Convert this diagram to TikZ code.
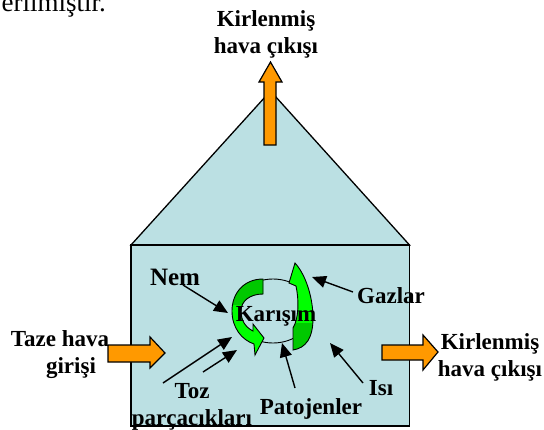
\documentclass[tikz,border=0pt]{standalone}
\usepackage{fontspec}
\setmainfont{Liberation Serif}
\usetikzlibrary{arrows.meta,calc}
\definecolor{boxblue}{RGB}{187,224,227}
\definecolor{orangefill}{RGB}{255,153,0}
\definecolor{darkgreen}{RGB}{0,200,0}
\definecolor{brightgreen}{RGB}{0,255,0}
\begin{document}
\begin{tikzpicture}[x=1pt,y=-1pt,
  lbl/.style={font=\fontsize{23}{27}\selectfont\bfseries, inner sep=0pt, align=center},
  ptr/.style={line width=1.4pt, -{Triangle[length=14pt,width=12pt]}},
  blockarrow/.style={fill=orangefill, draw=black, line width=1.2pt, line join=miter},
  house/.style={fill=boxblue, draw=black, line width=1.3pt},
  greenarrow/.style={draw=black, line width=0.9pt, fill=brightgreen},
  cycleline/.style={draw=black, line width=0.9pt},
]
\path[use as bounding box, clip] (0,0) rectangle (544,429);

% fragment of the preceding sentence
\node[font=\fontsize{27}{30}\selectfont, anchor=base east, inner sep=0pt] (prev) at (106,11) {verilmiştir.};

% house
\draw[house] (131,245) -- (270.5,91) -- (409.5,245) -- cycle;
\draw[house] (131,245) rectangle (409.5,426);

% orange block arrows
\draw[blockarrow] (264,145) -- (264,82) -- (259,82) -- (270.5,62) -- (282,82) -- (276,82) -- (276,145) -- cycle;
\draw[blockarrow] (108,345) -- (150,345) -- (150,337) -- (165,353) -- (150,368) -- (150,362) -- (108,362) -- cycle;
\draw[blockarrow] (382,345) -- (423,345) -- (423,335) -- (438,352) -- (423,370) -- (423,360) -- (382,360) -- cycle;

% mixing cycle
\draw[cycleline] (273,311) ellipse [x radius=39pt, y radius=32pt];
\path[greenarrow, path picture={
    \fill[darkgreen] (path picture bounding box.north west) rectangle ($(path picture bounding box.south east)!0.66!(path picture bounding box.north east)$);}]
  (263,279) .. controls (244,279) and (232,293) .. (232,311)
  .. controls (232,328) and (242,340) .. (254,344)
  -- (255,355) -- (264,338) -- (253,324) -- (253,331)
  .. controls (245,327) and (241,320) .. (241,311)
  .. controls (241,301) and (250,294) .. (263,294) -- cycle;
\path[greenarrow, path picture={
    \fill[darkgreen] (path picture bounding box.south west) rectangle ($(path picture bounding box.south east)!0.31!(path picture bounding box.north east)$);}]
  (295,263) -- (289,283) -- (296,286)
  .. controls (299,300) and (299,318) .. (293,328)
  -- (293,350)
  .. controls (306,348) and (313,338) .. (313,318)
  .. controls (313,298) and (306,275) .. (295,263) -- cycle;

% labels (multi-line nodes: base = baseline of last line)
\node[lbl, anchor=base] (topout) at (266,53) {Kirlenmiş\\hava çıkışı};
\node[lbl, anchor=base] (inlbl) at (60,373) {Taze hava\\\hspace*{22pt}girişi};
\node[lbl, anchor=base] (rightout) at (490,376) {Kirlenmiş\\hava çıkışı};
\node[lbl, font=\fontsize{25}{27}\selectfont\bfseries, anchor=base] (nem) at (175,285) {Nem};
\node[lbl, anchor=base] (mix) at (276,321) {Karışım};
\node[lbl, anchor=base] (gaz) at (391,303) {Gazlar};
\node[lbl, anchor=base] (toz) at (192,425) {Toz\\parçacıkları};
\node[lbl, anchor=base] (pat) at (311,414) {Patojenler};
\node[lbl, anchor=base] (isi) at (381,395) {Isı};

% pointer ends
\coordinate (nemS) at (183,285);  \coordinate (nemE) at (228,313);
\coordinate (gazS) at (353,292);  \coordinate (gazE) at (312,277);
\coordinate (toz1S) at (163,383); \coordinate (toz1E) at (232,337);
\coordinate (toz2S) at (203,372); \coordinate (toz2E) at (237,350);
\coordinate (patS) at (295,388);  \coordinate (patE) at (282,343);
\coordinate (isiS) at (363,383);  \coordinate (isiE) at (330,343);

\draw[ptr] (nemS) -- (nemE);
\draw[ptr] (gazS) -- (gazE);
\draw[ptr] (toz1S) -- (toz1E);
\draw[ptr] (toz2S) -- (toz2E);
\draw[ptr] (patS) -- (patE);
\draw[ptr] (isiS) -- (isiE);
\end{tikzpicture}
\end{document}
